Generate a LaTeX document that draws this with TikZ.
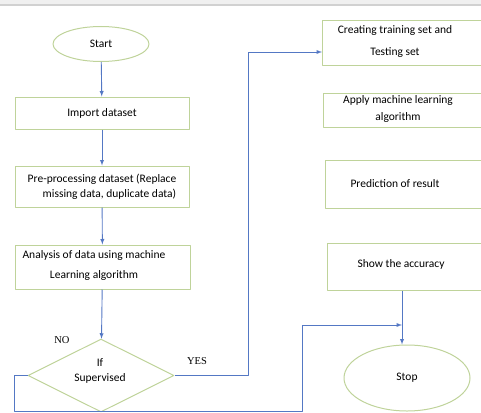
\documentclass[tikz,border=0pt]{standalone}
\usepackage{fontspec}
\setmainfont{Carlito}
\newfontfamily\serifnote{Liberation Serif}
\usetikzlibrary{shapes.geometric}

\definecolor{boxgreen}{HTML}{BFD39A}
\definecolor{flowblue}{HTML}{5478C4}

\begin{document}
\begin{tikzpicture}[>=latex,line join=bevel,x=1pt,y=-1pt,
  box/.style={draw=boxgreen,line width=1pt,rectangle,inner sep=0pt,
    font=\fontsize{11.5}{14}\selectfont,align=center},
  term/.style={draw=boxgreen,line width=1pt,ellipse,inner sep=0pt,
    font=\fontsize{11.5}{14}\selectfont},
  decision/.style={draw=boxgreen,line width=1pt,diamond,inner sep=0pt},
  txt/.style={font=\fontsize{11.5}{14}\selectfont,align=center,inner sep=0pt},
  yesno/.style={font=\serifnote\fontsize{10.5}{12}\selectfont,inner sep=0pt},
  flow/.style={draw=flowblue,line width=0.9pt}]
%%
\useasboundingbox (0,0) rectangle (481,412);
\clip (0,0) rectangle (481,412);
\fill [black!6] (0,0) rectangle (481,4);
\draw [black!18,line width=1.2pt] (0,5) -- (481,5);
%
\node (start) at (101,44) [term,minimum width=96,minimum height=35] {Start};
  \node (import) at (102,113) [box,minimum width=174,minimum height=32] {Import dataset};
  \node (prep) at (102,186.5) [box,minimum width=174,minimum height=41,align=left]
    {Pre-processing dataset (Replace\\[1pt]\hspace*{15pt}missing data, duplicate data)};
  \node (analysis) at (102.5,267) [box,minimum width=175,minimum height=44] {};
  \node (analysist) at (94,265) [txt] {Analysis of data using machine\\[6pt]Learning algorithm};
  \node (ifsup) at (101,375.5) [decision,minimum width=146,minimum height=73] {};
  \node (ifsupt) at (100,371) [txt] {If\\[1pt]Supervised};
  \node (nolabel) at (62,340) [yesno] {NO};
  \node (yeslabel) at (197,361) [yesno] {YES};
%
  \node (create) at (322,43) [box,anchor=west,minimum width=170,minimum height=44] {};
  \node (createt) at (395,41) [txt] {Creating training set and\\[8pt]Testing set};
  \node (apply) at (323,110) [box,anchor=west,minimum width=170,minimum height=34] {};
  \node (applyt) at (398,108.5) [txt] {Apply machine learning\\[3pt]algorithm};
  \node (predict) at (325,184) [box,anchor=west,minimum width=170,minimum height=48] {};
  \node (predictt) at (395,184) [txt] {Prediction of result};
  \node (show) at (327,266.5) [box,anchor=west,minimum width=170,minimum height=47] {};
  \node (showt) at (401,264) [txt] {Show the accuracy};
  \node (stop) at (407,378) [term,minimum width=126,minimum height=66] {Stop};
%
  \coordinate (createin) at ([yshift=-9pt]create.west);
  \coordinate (yesup) at (248,0);
  \coordinate (nolow) at (14,411);
  \coordinate (noup) at (302,325);
  \coordinate (join) at (402,325);
%
  \draw [->,flow] (start) -- (import);
  \draw [->,flow] (import) -- (prep);
  \draw [->,flow] (prep) -- (analysis);
  \draw [->,flow] (analysis) -- (ifsup);
  \draw [->,flow] (ifsup.east) -| (yesup |- createin) -- (createin);
  \draw [->,flow] (ifsup.west) -| (nolow) -| (noup) -- (join);
  \draw [->,flow] (join |- show.south) -- (join |- stop.north);
%
\end{tikzpicture}
\end{document}
